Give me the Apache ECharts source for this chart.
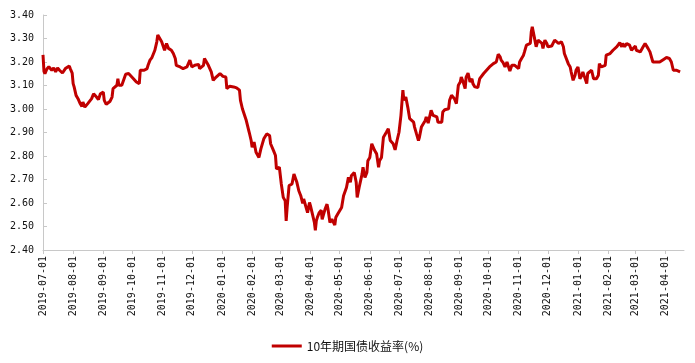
<!DOCTYPE html>
<html>
<head>
<meta charset="utf-8">
<script src="https://cdn.jsdelivr.net/npm/echarts@6/dist/echarts.min.js"></script>
<style>
html,body{margin:0;padding:0;background:#fff;}
#chart{width:695px;height:363px;}
</style>
</head>
<body>
<div id="chart"></div>
<script>
// Axis range (calendar days) and tick labels
var axisStart = '2019-07-01';
var axisEnd = '2021-04-20';
var yTicks = [2.40, 2.50, 2.60, 2.70, 2.80, 2.90, 3.00, 3.10, 3.20, 3.30, 3.40];
var seriesName = '10年期国债收益率(%)';

var obs2019Q3 = [
 ['2019-07-01',3.23],['2019-07-02',3.16],['2019-07-03',3.15],['2019-07-05',3.17],['2019-07-07',3.18],
 ['2019-07-10',3.165],['2019-07-12',3.175],['2019-07-14',3.158],['2019-07-16',3.175],['2019-07-18',3.165],
 ['2019-07-21',3.153],['2019-07-24',3.172],['2019-07-25',3.168],['2019-07-28',3.183],['2019-07-29',3.172],
 ['2019-07-31',3.153],['2019-08-01',3.108],['2019-08-02',3.094],['2019-08-04',3.058],['2019-08-06',3.044],
 ['2019-08-08',3.025],['2019-08-10',3.011],['2019-08-11',3.030],['2019-08-13',3.008],['2019-08-16',3.023],
 ['2019-08-18',3.023],['2019-08-20',3.044],['2019-08-22',3.065],['2019-08-23',3.058],['2019-08-25',3.051],
 ['2019-08-27',3.040],['2019-08-29',3.065],['2019-08-30',3.058],['2019-09-01',3.072],['2019-09-02',3.037],
 ['2019-09-04',3.020],['2019-09-06',3.023],['2019-09-08',3.033],['2019-09-10',3.051],['2019-09-11',3.087],
 ['2019-09-13',3.091],['2019-09-15',3.101],['2019-09-16',3.129],['2019-09-17',3.101],['2019-09-20',3.101],
 ['2019-09-22',3.108],['2019-09-24',3.148],['2019-09-27',3.151],['2019-09-28',3.144]
];
var obs2019Q4 = [
 ['2019-10-02',3.129],['2019-10-05',3.115],['2019-10-08',3.108],['2019-10-09',3.165],['2019-10-10',3.172],
 ['2019-10-13',3.165],['2019-10-16',3.172],['2019-10-17',3.186],['2019-10-19',3.208],['2019-10-21',3.219],
 ['2019-10-22',3.222],['2019-10-24',3.250],['2019-10-26',3.286],['2019-10-27',3.315],['2019-10-29',3.308],
 ['2019-10-31',3.286],['2019-11-02',3.293],['2019-11-03',3.250],['2019-11-05',3.279],['2019-11-07',3.258],
 ['2019-11-09',3.258],['2019-11-10',3.250],['2019-11-12',3.236],['2019-11-14',3.215],['2019-11-15',3.186],
 ['2019-11-17',3.179],['2019-11-19',3.179],['2019-11-21',3.186],['2019-11-22',3.172],['2019-11-24',3.165],
 ['2019-11-26',3.179],['2019-11-27',3.172],['2019-11-29',3.208],['2019-12-01',3.179],['2019-12-02',3.179],
 ['2019-12-04',3.186],['2019-12-06',3.179],['2019-12-08',3.190],['2019-12-09',3.172],['2019-12-11',3.179],
 ['2019-12-13',3.186],['2019-12-14',3.215],['2019-12-16',3.215],['2019-12-18',3.186],['2019-12-20',3.179],
 ['2019-12-21',3.158],['2019-12-23',3.122],['2019-12-25',3.122],['2019-12-26',3.136],['2019-12-30',3.151]
];
var obs2020H1 = [
 ['2020-01-02',3.139],['2020-01-05',3.136],['2020-01-06',3.087],['2020-01-09',3.097],['2020-01-13',3.094],
 ['2020-01-16',3.090],['2020-01-19',3.080],['2020-01-20',3.037],['2020-01-22',3.001],['2020-01-26',2.951],
 ['2020-01-29',2.901],['2020-01-31',2.866],['2020-02-01',2.837],['2020-02-03',2.859],['2020-02-05',2.816],
 ['2020-02-08',2.794],['2020-02-10',2.830],['2020-02-12',2.823],['2020-02-13',2.873],['2020-02-16',2.894],
 ['2020-02-19',2.887],['2020-02-20',2.852],['2020-02-23',2.823],['2020-02-25',2.802],['2020-02-26',2.745],
 ['2020-02-29',2.752],['2020-03-01',2.745],['2020-03-02',2.681],['2020-03-04',2.624],['2020-03-06',2.609],
 ['2020-03-07',2.524],['2020-03-08',2.581],['2020-03-10',2.674],['2020-03-13',2.681],['2020-03-15',2.723],
 ['2020-03-17',2.730],['2020-03-18',2.688],['2020-03-20',2.652],['2020-03-22',2.631],['2020-03-24',2.598],
 ['2020-03-25',2.617],['2020-03-27',2.609],['2020-03-29',2.559],['2020-03-31',2.602],['2020-04-01',2.588],
 ['2020-04-03',2.553],['2020-04-05',2.517],['2020-04-06',2.484],['2020-04-07',2.524],['2020-04-08',2.538],
 ['2020-04-10',2.559],['2020-04-12',2.569],['2020-04-13',2.531],['2020-04-16',2.574],['2020-04-18',2.595],
 ['2020-04-19',2.574],['2020-04-21',2.517],['2020-04-23',2.531],['2020-04-24',2.527],['2020-04-26',2.506],
 ['2020-04-27',2.538],['2020-04-29',2.553],['2020-05-03',2.581],['2020-05-05',2.631],['2020-05-06',2.638],
 ['2020-05-08',2.666],['2020-05-10',2.709],['2020-05-12',2.688],['2020-05-13',2.716],['2020-05-16',2.730],
 ['2020-05-18',2.688],['2020-05-19',2.624],['2020-05-21',2.666],['2020-05-24',2.723],['2020-05-25',2.752],
 ['2020-05-27',2.709],['2020-05-29',2.730],['2020-05-30',2.780],['2020-06-01',2.794],['2020-06-03',2.852],
 ['2020-06-04',2.845],['2020-06-06',2.823],['2020-06-08',2.809],['2020-06-10',2.752],['2020-06-11',2.780],
 ['2020-06-13',2.794],['2020-06-15',2.880],['2020-06-16',2.887],['2020-06-18',2.901],['2020-06-20',2.916],
 ['2020-06-22',2.866],['2020-06-25',2.852],['2020-06-27',2.826],['2020-06-29',2.866]
];
var obs2020H2 = [
 ['2020-07-01',2.901],['2020-07-03',2.973],['2020-07-05',3.080],['2020-07-06',3.037],['2020-07-08',3.051],
 ['2020-07-09',3.058],['2020-07-10',3.008],['2020-07-12',2.959],['2020-07-14',2.951],['2020-07-16',2.944],
 ['2020-07-17',2.923],['2020-07-19',2.894],['2020-07-21',2.866],['2020-07-22',2.880],['2020-07-24',2.923],
 ['2020-07-26',2.930],['2020-07-28',2.951],['2020-07-29',2.966],['2020-07-31',2.940],['2020-08-02',2.944],
 ['2020-08-03',2.994],['2020-08-05',2.973],['2020-08-07',2.966],['2020-08-09',2.966],['2020-08-10',2.944],
 ['2020-08-12',2.940],['2020-08-14',2.944],['2020-08-15',2.987],['2020-08-17',2.997],['2020-08-19',3.001],
 ['2020-08-21',3.001],['2020-08-22',3.037],['2020-08-24',3.058],['2020-08-26',3.065],['2020-08-27',3.044],
 ['2020-08-29',3.023],['2020-08-31',3.101],['2020-09-02',3.115],['2020-09-03',3.136],['2020-09-05',3.115],
 ['2020-09-07',3.087],['2020-09-08',3.136],['2020-09-10',3.153],['2020-09-12',3.115],['2020-09-14',3.129],
 ['2020-09-15',3.108],['2020-09-17',3.094],['2020-09-19',3.087],['2020-09-20',3.091],['2020-09-22',3.129],
 ['2020-09-24',3.122],['2020-09-26',3.151],['2020-09-29',3.165],['2020-10-02',3.179],['2020-10-06',3.193],
 ['2020-10-08',3.193],['2020-10-09',3.200],['2020-10-11',3.233],['2020-10-13',3.222],['2020-10-14',3.208],
 ['2020-10-16',3.197],['2020-10-18',3.179],['2020-10-20',3.200],['2020-10-21',3.193],['2020-10-23',3.162],
 ['2020-10-25',3.186],['2020-10-26',3.193],['2020-10-28',3.186],['2020-10-30',3.179],['2020-11-01',3.172],
 ['2020-11-02',3.200],['2020-11-04',3.215],['2020-11-06',3.229],['2020-11-07',3.243],['2020-11-09',3.272],
 ['2020-11-11',3.279],['2020-11-13',3.279],['2020-11-14',3.329],['2020-11-15',3.350],['2020-11-17',3.308],
 ['2020-11-18',3.286],['2020-11-19',3.265],['2020-11-21',3.293],['2020-11-23',3.300],['2020-11-25',3.279],
 ['2020-11-26',3.258],['2020-11-28',3.293],['2020-11-30',3.279],['2020-12-01',3.265],['2020-12-03',3.258],
 ['2020-12-05',3.268],['2020-12-06',3.265],['2020-12-08',3.293],['2020-12-10',3.286],['2020-12-12',3.279],
 ['2020-12-13',3.286],['2020-12-15',3.286],['2020-12-17',3.265],['2020-12-18',3.236],['2020-12-20',3.229],
 ['2020-12-22',3.193],['2020-12-24',3.179],['2020-12-25',3.158],['2020-12-27',3.122],['2020-12-29',3.144],
 ['2020-12-30',3.165]
];
var obs2021 = [
 ['2021-01-01',3.179],['2021-01-03',3.129],['2021-01-05',3.144],['2021-01-06',3.158],['2021-01-08',3.165],
 ['2021-01-10',3.108],['2021-01-11',3.151],['2021-01-13',3.158],['2021-01-15',3.165],['2021-01-17',3.129],
 ['2021-01-18',3.122],['2021-01-20',3.129],['2021-01-22',3.144],['2021-01-23',3.193],['2021-01-25',3.179],
 ['2021-01-27',3.172],['2021-01-29',3.186],['2021-01-30',3.229],['2021-02-01',3.222],['2021-02-03',3.236],
 ['2021-02-04',3.243],['2021-02-06',3.250],['2021-02-10',3.265],['2021-02-13',3.282],['2021-02-15',3.265],
 ['2021-02-16',3.279],['2021-02-18',3.265],['2021-02-20',3.279],['2021-02-21',3.282],['2021-02-23',3.272],
 ['2021-02-25',3.250],['2021-02-27',3.258],['2021-03-01',3.268],['2021-03-02',3.250],['2021-03-04',3.250],
 ['2021-03-06',3.243],['2021-03-07',3.250],['2021-03-09',3.265],['2021-03-11',3.279],['2021-03-12',3.272],
 ['2021-03-14',3.258],['2021-03-16',3.243],['2021-03-18',3.236],['2021-03-19',3.200],['2021-03-21',3.193],
 ['2021-03-23',3.200],['2021-03-24',3.208],['2021-03-26',3.200],['2021-03-28',3.208],['2021-03-30',3.211],
 ['2021-03-31',3.215],['2021-04-02',3.219],['2021-04-04',3.225],['2021-04-05',3.215],['2021-04-07',3.200],
 ['2021-04-09',3.165],['2021-04-11',3.172],['2021-04-12',3.165],['2021-04-14',3.165],['2021-04-16',3.158]
];

// Build calendar-day categories
function fmt(d){
  var m = d.getUTCMonth()+1, day = d.getUTCDate();
  return d.getUTCFullYear() + '-' + (m<10?'0':'') + m + '-' + (day<10?'0':'') + day;
}
var categories = [];
(function(){
  var p = axisStart.split('-'), q = axisEnd.split('-');
  var t = Date.UTC(+p[0], +p[1]-1, +p[2]);
  var end = Date.UTC(+q[0], +q[1]-1, +q[2]);
  while (t <= end) { categories.push(fmt(new Date(t))); t += 86400000; }
})();
var lookup = {};
[obs2019Q3, obs2019Q4, obs2020H1, obs2020H2, obs2021].forEach(function(seg){
  seg.forEach(function(pt){ lookup[pt[0]] = pt[1]; });
});
var values = categories.map(function(c){ return lookup.hasOwnProperty(c) ? lookup[c] : null; });

var isMonthStart = function(idx, val){ return val.slice(8) === '01'; };

var chart = echarts.init(document.getElementById('chart'), null, {renderer:'canvas'});
chart.setOption({
  animation: false,
  backgroundColor: '#ffffff',
  grid: { left: 43, right: 11, top: 15, bottom: 113, containLabel: false },
  legend: {
    data: [seriesName],
    left: 'center',
    top: 335,
    icon: 'rect',
    itemWidth: 30,
    itemHeight: 3,
    itemGap: 10,
    textStyle: { fontSize: 12, color: '#111', fontFamily: '"Noto Sans CJK SC", sans-serif' }
  },
  xAxis: {
    type: 'category',
    data: categories,
    boundaryGap: false,
    axisLine: { show: true, lineStyle: { color: '#c8c8c8', width: 1 } },
    axisTick: { show: true, interval: isMonthStart, length: 4, lineStyle: { color: '#c8c8c8' } },
    axisLabel: {
      interval: isMonthStart,
      rotate: 90,
      margin: 6,
      fontSize: 10,
      color: '#111',
      fontFamily: '"DejaVu Sans Mono", "Liberation Mono", monospace'
    },
    splitLine: { show: false }
  },
  yAxis: {
    type: 'value',
    min: yTicks[0],
    max: yTicks[yTicks.length-1],
    interval: 0.1,
    axisLine: { show: true, lineStyle: { color: '#c8c8c8', width: 1 } },
    axisTick: { show: true, inside: true, length: 4, lineStyle: { color: '#c8c8c8' } },
    axisLabel: {
      margin: 9,
      fontSize: 10,
      color: '#111',
      fontFamily: '"DejaVu Sans Mono", "Liberation Mono", monospace',
      formatter: function(v){ return v.toFixed(2); }
    },
    splitLine: { show: false }
  },
  series: [{
    name: seriesName,
    type: 'line',
    data: values,
    connectNulls: true,
    showSymbol: false,
    symbol: 'none',
    lineStyle: { color: '#c00000', width: 3 },
    itemStyle: { color: '#c00000' }
  }]
});
</script>
</body>
</html>
